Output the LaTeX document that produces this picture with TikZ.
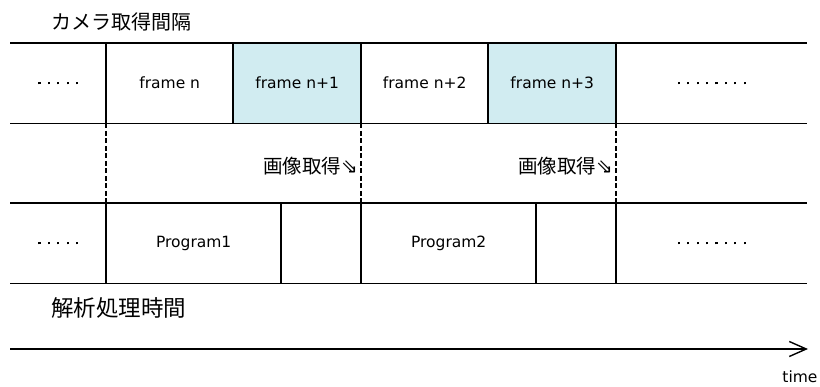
\documentclass[tikz,border=0pt]{standalone}
\usepackage{fontspec}
\setmainfont{DejaVu Sans}
\newfontfamily\jp{Noto Sans CJK JP}
\usetikzlibrary{arrows.meta}
\definecolor{framecyan}{RGB}{209,236,241}
\newcommand{\dd}{\makebox[9.4pt]{\rule{2.2pt}{2.2pt}}}
\begin{document}
\begin{tikzpicture}[x=1pt,y=-1pt,
  cell/.style={minimum height=80pt,inner sep=0pt,anchor=north west,font=\fontsize{15.5}{18}\selectfont,text=black},
  hl/.style={fill=framecyan},
  rule/.style={line width=1.4pt,black},
  capdash/.style={line width=2.4pt,black,dash pattern=on 5pt off 2.5pt},
  jplabel/.style={inner sep=0pt,text=black}]
\useasboundingbox (0,0) rectangle (820,387);
% top row
\node[cell,minimum width=96pt]  (t0) at (10,43)  {\dd\dd\dd\dd\dd};
\node[cell,minimum width=127pt] (t1) at (106,43) {frame n};
\node[cell,hl,minimum width=128pt] (t2) at (233,43) {frame n+1};
\node[cell,minimum width=127pt] (t3) at (361,43) {frame n+2};
\node[cell,hl,minimum width=128pt] (t4) at (488,43) {frame n+3};
\node[cell,minimum width=191pt] (t5) at (616,43) {\dd\dd\dd\dd\dd\dd\dd\dd};
% bottom row
\node[cell,minimum width=96pt]  (b0) at (10,203)  {\dd\dd\dd\dd\dd};
\node[cell,minimum width=175pt] (b1) at (106,203) {Program1};
\node[cell,minimum width=80pt]  (b2) at (281,203) {};
\node[cell,minimum width=175pt] (b3) at (361,203) {Program2};
\node[cell,minimum width=80pt]  (b4) at (536,203) {};
\node[cell,minimum width=191pt] (b5) at (616,203) {\dd\dd\dd\dd\dd\dd\dd\dd};
% horizontal rules
\draw[rule] (t0.north west) -- (t5.north east);
\draw[rule] (t0.south west) -- (t5.south east);
\draw[rule] (b0.north west) -- (b5.north east);
\draw[rule] (b0.south west) -- (b5.south east);
% vertical rules
\foreach \n in {t1,t2,t3,t4,t5,b1,b2,b3,b4,b5}
  \draw[rule] (\n.north west) -- (\n.south west);
% dashed capture lines
\draw[capdash] (t1.south west) -- (b1.north west);
\draw[capdash] (t3.south west) -- (b3.north west);
\draw[capdash] (t5.south west) -- (b5.north west);
% labels
\node[jplabel,anchor=west,font=\jp\fontsize{20}{22}\selectfont] (title) at (51,21.5) {カメラ取得間隔};
\node[jplabel,anchor=west,font=\jp\fontsize{22.5}{24}\selectfont] (anal) at (51,308) {解析処理時間};
\node[jplabel,anchor=east,font=\jp\fontsize{19.5}{22}\selectfont] (cap1) at (358,166) {画像取得{\rmfamily\fontsize{20}{22}\selectfont ⇘}};
\node[jplabel,anchor=east,font=\jp\fontsize{19.5}{22}\selectfont] (cap2) at (613,166) {画像取得{\rmfamily\fontsize{20}{22}\selectfont ⇘}};
% time axis
\coordinate (ts) at (10,349);
\coordinate (te) at (808,349);
\draw[rule,-{Straight Barb[length=17pt,width=15pt,line width=1.4pt]}] (ts) -- (te);
\node[jplabel,font=\fontsize{15.5}{18}\selectfont] (time) at (800,377) {time};
\end{tikzpicture}
\end{document}
